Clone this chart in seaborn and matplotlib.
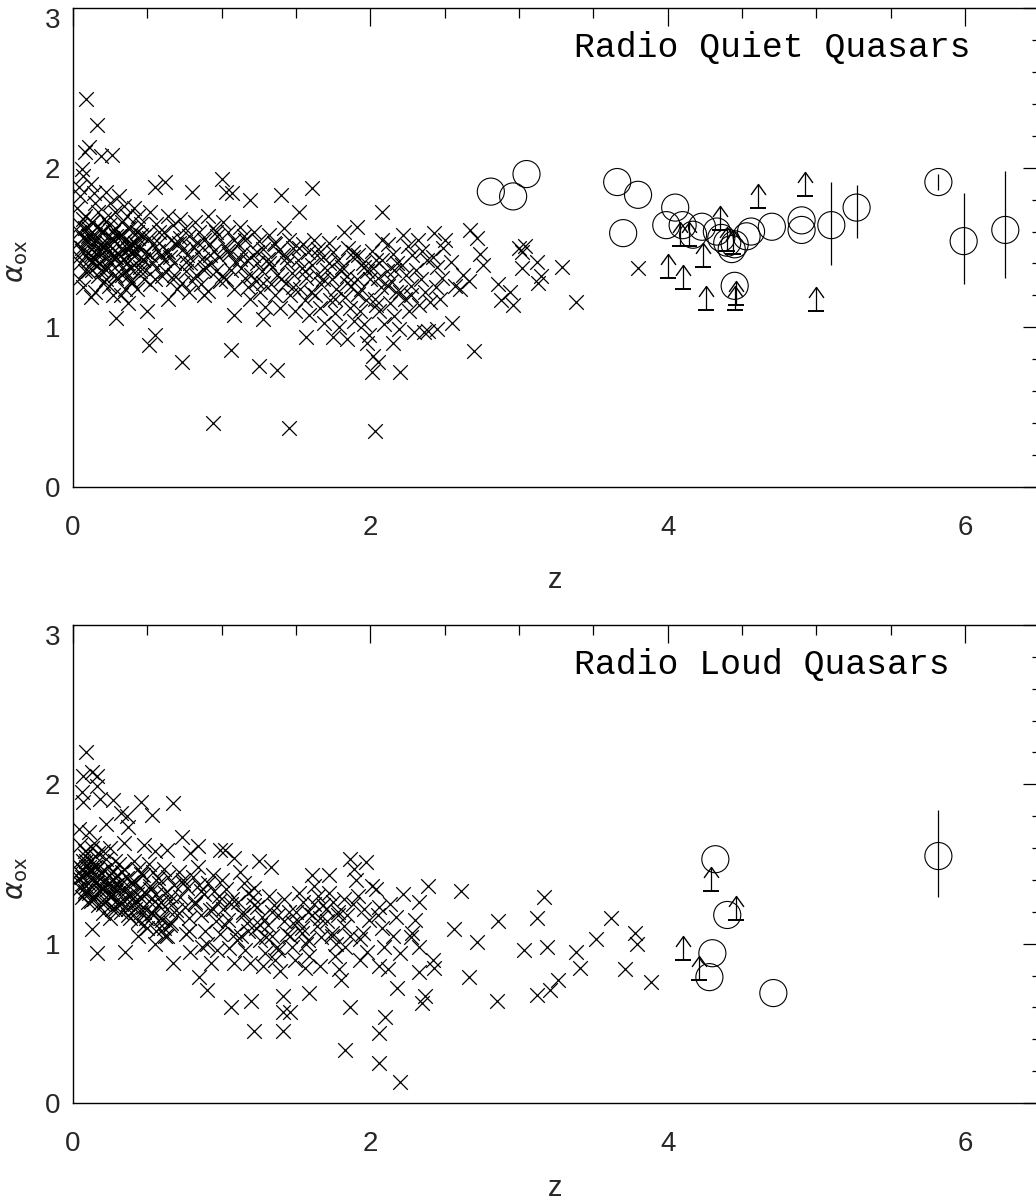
import numpy as np
import pandas as pd
import matplotlib
matplotlib.use("Agg")
import matplotlib.pyplot as plt
from matplotlib.path import Path
from matplotlib.ticker import MultipleLocator
import seaborn as sns

# ---------------------------------------------------------------------------
# Data: redshift z and alpha_ox
# ---------------------------------------------------------------------------
# Radio quiet, low-z sample (crosses)
rqq_cross_z = [
    0.07, 0.06, 0.08, 0.09, 0.04, 0.05, 0.03, 0.08, 0.05, 0.04, 0.07, 0.03, 0.06, 0.09, 0.05, 0.08, 0.04, 0.07, 0.10, 0.10,
    0.11, 0.16, 0.19, 0.12, 0.14, 0.15, 0.17, 0.13, 0.18, 0.11, 0.15, 0.19, 0.12, 0.16, 0.14, 0.18, 0.13, 0.17, 0.20, 0.15, 0.12, 0.19,
    0.26, 0.22, 0.25, 0.28, 0.21, 0.24, 0.27, 0.29, 0.23, 0.26, 0.21, 0.28, 0.25, 0.22, 0.29, 0.24, 0.27, 0.29,
    0.31, 0.34, 0.36, 0.33, 0.38, 0.32, 0.35, 0.39, 0.37, 0.31, 0.34, 0.36, 0.38, 0.33, 0.39, 0.35, 0.32, 0.37,
    0.41, 0.44, 0.46, 0.43, 0.48, 0.42, 0.45, 0.49, 0.47, 0.41, 0.45, 0.48, 0.43, 0.50,
    0.55, 0.62, 0.52, 0.56, 0.58, 0.51, 0.54, 0.57, 0.59, 0.53, 0.56, 0.60, 0.52, 0.51, 0.55,
    0.64, 0.67, 0.61, 0.66, 0.69, 0.63, 0.65, 0.68, 0.62, 0.67, 0.70, 0.64,
    0.80, 0.73, 0.72, 0.75, 0.78, 0.71, 0.74, 0.77, 0.79, 0.76, 0.73, 0.78,
    0.82, 0.85, 0.88, 0.81, 0.84, 0.87, 0.89, 0.83, 0.86, 0.88,
    0.91, 0.94, 0.97, 0.92, 0.95, 0.98, 0.93, 0.96, 0.99, 0.94, 0.91,
    1.00, 1.03, 1.07, 1.01, 1.04, 1.08, 1.02, 1.05, 1.09, 1.06, 1.03, 1.06, 1.08,
    1.12, 1.15, 1.19, 1.11, 1.14, 1.17, 1.13, 1.16, 1.18, 1.19,
    1.22, 1.25, 1.28, 1.21, 1.24, 1.27, 1.23, 1.26, 1.29, 1.25, 1.28,
    1.32, 1.35, 1.38, 1.31, 1.34, 1.37, 1.33, 1.36, 1.39, 1.37, 1.40,
    1.42, 1.45, 1.48, 1.41, 1.44, 1.47, 1.43, 1.46, 1.49, 1.45,
    1.52, 1.55, 1.58, 1.51, 1.54, 1.57, 1.53, 1.56, 1.59, 1.57, 1.61,
    1.62, 1.65, 1.68, 1.61, 1.64, 1.67, 1.63, 1.66, 1.69,
    1.72, 1.75, 1.78, 1.71, 1.74, 1.77, 1.73, 1.76, 1.79, 1.75,
    1.82, 1.85, 1.88, 1.81, 1.84, 1.87, 1.83, 1.86, 1.89, 1.84, 1.91,
    1.92, 1.95, 1.98, 1.91, 1.94, 1.97, 1.93, 1.96, 1.99, 1.98,
    2.01, 2.04, 2.08, 2.02, 2.05, 2.07, 2.03, 2.06, 2.09, 2.02, 2.05, 2.03, 2.01, 2.08,
    2.12, 2.15, 2.18, 2.11, 2.14, 2.17, 2.13, 2.16, 2.19, 2.15, 2.20,
    2.22, 2.25, 2.28, 2.21, 2.24, 2.27, 2.23, 2.26, 2.29, 2.27,
    2.32, 2.35, 2.38, 2.31, 2.34, 2.37, 2.33, 2.36, 2.39, 2.40,
    2.43, 2.49, 2.42, 2.45, 2.48, 2.44, 2.47, 2.45, 2.50,
    2.54, 2.55, 2.60, 2.66, 2.67, 2.72, 2.70, 2.74, 2.76, 2.86,
    2.88, 2.94, 2.96, 3.00, 3.02, 3.04, 3.02, 3.12, 3.13, 3.15,
    3.29, 3.38, 3.80, 2.62, 2.57,
    0.06, 0.09, 0.12, 0.15, 0.18, 0.21, 0.24, 0.27, 0.30, 0.33, 0.36, 0.39, 0.42, 0.45,
    0.08, 0.11, 0.14, 0.17, 0.20, 0.23, 0.26, 0.29, 0.32, 0.35, 0.38, 0.41, 0.44, 0.47,
    0.10, 0.13, 0.16, 0.19, 0.22, 0.25, 0.28, 0.31, 0.34, 0.37, 0.40, 0.43,
    0.04, 0.07, 0.10, 0.13, 0.16, 0.19, 0.22, 0.25, 0.28, 0.31, 0.34, 0.37, 0.40, 0.43, 0.46, 0.49, 0.52, 0.55, 0.58, 0.61,
    0.64, 0.68, 0.72, 0.76, 0.80, 0.84, 0.88, 0.92, 0.96, 1.00, 1.04, 1.08, 1.12, 1.16, 1.20, 1.24, 1.28, 1.32, 1.36, 1.40,
    1.44, 1.48, 1.52, 1.56, 1.60, 1.64, 1.68, 1.72, 1.76, 1.80, 1.84, 1.88, 1.92, 1.96, 2.00, 2.04, 2.08, 2.12, 2.16, 2.20,
]
rqq_cross_a = [
    1.95, 1.99, 2.10, 2.43, 1.88, 1.82, 1.75, 1.70, 1.64, 1.60, 1.56, 1.52, 1.48, 1.45, 1.40, 1.35, 1.30, 1.25, 1.55, 1.62,
    2.13, 2.27, 2.07, 1.90, 1.84, 1.78, 1.72, 1.66, 1.62, 1.58, 1.55, 1.52, 1.49, 1.46, 1.43, 1.40, 1.36, 1.32, 1.28, 1.22, 1.19, 1.60,
    2.08, 1.85, 1.78, 1.72, 1.68, 1.64, 1.60, 1.57, 1.53, 1.50, 1.47, 1.44, 1.40, 1.36, 1.31, 1.26, 1.20, 1.06,
    1.82, 1.76, 1.70, 1.66, 1.62, 1.58, 1.55, 1.52, 1.49, 1.46, 1.43, 1.40, 1.37, 1.33, 1.29, 1.24, 1.20, 1.15,
    1.75, 1.70, 1.65, 1.60, 1.57, 1.53, 1.50, 1.47, 1.43, 1.39, 1.35, 1.30, 1.24, 1.10,
    1.88, 1.91, 1.72, 1.65, 1.60, 1.56, 1.52, 1.48, 1.45, 1.41, 1.37, 1.32, 1.27, 0.89, 0.95,
    1.70, 1.64, 1.60, 1.55, 1.52, 1.48, 1.44, 1.40, 1.35, 1.30, 1.24, 1.18,
    1.85, 0.78, 1.68, 1.62, 1.57, 1.53, 1.49, 1.45, 1.40, 1.35, 1.28, 1.22,
    1.66, 1.60, 1.55, 1.51, 1.47, 1.43, 1.38, 1.33, 1.27, 1.20,
    1.70, 1.62, 1.57, 1.52, 1.48, 1.44, 1.40, 1.35, 1.29, 0.40, 1.23,
    1.93, 1.85, 1.84, 1.66, 1.60, 1.55, 1.51, 1.46, 1.41, 1.36, 1.30, 0.86, 1.08,
    1.63, 1.57, 1.80, 1.52, 1.47, 1.42, 1.37, 1.31, 1.25, 1.18,
    1.60, 1.54, 1.49, 1.45, 1.40, 1.35, 1.29, 1.22, 1.13, 0.76, 1.05,
    1.58, 1.53, 1.48, 1.43, 1.38, 1.33, 1.27, 1.20, 1.12, 0.73, 1.83,
    1.62, 1.55, 1.50, 1.45, 1.40, 1.34, 1.28, 1.20, 1.10, 0.37,
    1.72, 1.52, 1.47, 1.42, 1.37, 1.31, 1.24, 1.17, 1.08, 0.94, 1.87,
    1.55, 1.49, 1.44, 1.39, 1.33, 1.27, 1.20, 1.12, 1.03,
    1.53, 1.47, 1.42, 1.36, 1.30, 1.24, 1.17, 1.09, 1.00, 0.94,
    1.60, 1.50, 1.44, 1.38, 1.32, 1.26, 1.19, 1.12, 1.04, 0.93, 1.63,
    1.45, 1.40, 1.35, 1.30, 1.24, 1.17, 1.10, 1.02, 0.95, 0.90,
    1.48, 1.42, 1.72, 1.37, 1.31, 1.25, 1.18, 1.10, 1.02, 0.82, 0.78, 0.35, 0.72, 1.55,
    1.52, 1.46, 1.40, 1.35, 1.29, 1.22, 1.15, 1.07, 0.99, 0.90, 0.72,
    1.58, 1.51, 1.45, 1.39, 1.33, 1.26, 1.18, 1.10, 0.97, 1.20,
    1.55, 1.48, 1.42, 1.36, 1.30, 1.22, 1.14, 0.97, 0.98, 1.16,
    1.59, 1.50, 1.44, 1.38, 1.31, 1.25, 1.18, 0.99, 1.55,
    1.41, 1.03, 1.24, 1.29, 1.61, 1.56, 0.85, 1.46, 1.39, 1.27,
    1.17, 1.22, 1.14, 1.50, 1.47, 1.51, 1.37, 1.41, 1.28, 1.32,
    1.38, 1.16, 1.37, 1.33, 1.26,
    1.50, 1.55, 1.45, 1.58, 1.48, 1.52, 1.42, 1.55, 1.46, 1.50, 1.40, 1.53, 1.45, 1.38,
    1.62, 1.42, 1.53, 1.47, 1.60, 1.38, 1.56, 1.44, 1.58, 1.35, 1.50, 1.48, 1.56, 1.42,
    1.35, 1.66, 1.39, 1.52, 1.30, 1.45, 1.62, 1.40, 1.54, 1.32, 1.46, 1.60,
    1.44, 1.68, 1.57, 1.41, 1.63, 1.36, 1.49, 1.69, 1.33, 1.57, 1.47, 1.62, 1.28, 1.51, 1.58, 1.36, 1.45, 1.30, 1.53, 1.42,
    1.47, 1.33, 1.56, 1.41, 1.29, 1.53, 1.36, 1.45, 1.60, 1.32, 1.48, 1.24, 1.43, 1.55, 1.33, 1.47, 1.28, 1.40, 1.52, 1.30,
    1.44, 1.25, 1.50, 1.35, 1.22, 1.45, 1.30, 1.40, 1.18, 1.35, 1.28, 1.47, 1.21, 1.38, 1.30, 1.14, 1.42, 1.26, 1.36, 1.22,
]

# Radio quiet, high-z detections (circles)
rqq_circ_z = [2.81, 2.96, 3.05, 3.66, 3.80, 3.70, 4.05, 3.99, 4.10, 4.17, 4.23,
              4.33, 4.36, 4.40, 4.43, 4.45, 4.53, 4.56, 4.70, 4.90, 4.90, 4.45]
rqq_circ_a = [1.85, 1.82, 1.96, 1.91, 1.83, 1.59, 1.75, 1.64, 1.64, 1.58, 1.63,
              1.60, 1.56, 1.53, 1.49, 1.52, 1.57, 1.60, 1.63, 1.67, 1.61, 1.26]
# Radio quiet, circles with error bars
rqq_err_z = [5.10, 5.27, 5.82, 5.99, 6.27]
rqq_err_a = [1.64, 1.75, 1.91, 1.54, 1.61]
rqq_err_lo = [1.39, 1.56, 1.86, 1.27, 1.31]
rqq_err_hi = [1.91, 1.89, 1.96, 1.84, 1.98]
# Radio quiet, lower limits (arrows)
rqq_lim_z = [4.00, 4.10, 4.08, 4.14, 4.24, 4.26, 4.35, 4.40, 4.44, 4.45, 4.46, 4.61, 4.92, 5.00]
rqq_lim_a = [1.31, 1.24, 1.51, 1.51, 1.38, 1.11, 1.61, 1.48, 1.46, 1.11, 1.14, 1.745, 1.82, 1.10]

# Radio loud, low-z sample (crosses)
rlq_cross_z = [
    0.09, 0.07, 0.04, 0.07, 0.05, 0.08, 0.03, 0.06, 0.09, 0.04, 0.07, 0.05, 0.08, 0.06, 0.10, 0.03, 0.08, 0.06, 0.09,
    0.13, 0.16, 0.16, 0.18, 0.11, 0.14, 0.17, 0.12, 0.15, 0.19, 0.13, 0.16, 0.18, 0.11, 0.14, 0.17, 0.20, 0.13, 0.16, 0.15, 0.12,
    0.27, 0.22, 0.25, 0.28, 0.21, 0.24, 0.27, 0.29, 0.23, 0.26, 0.22, 0.28, 0.25, 0.24,
    0.36, 0.32, 0.37, 0.34, 0.31, 0.33, 0.36, 0.39, 0.35, 0.38, 0.32, 0.37, 0.35,
    0.46, 0.48, 0.41, 0.44, 0.47, 0.42, 0.45, 0.49, 0.43, 0.46, 0.48, 0.44,
    0.53, 0.55, 0.51, 0.54, 0.57, 0.52, 0.56, 0.59, 0.53, 0.58, 0.55,
    0.63, 0.67, 0.61, 0.64, 0.68, 0.62, 0.65, 0.69, 0.66, 0.67, 0.63,
    0.73, 0.79, 0.71, 0.74, 0.77, 0.72, 0.75, 0.78, 0.76, 0.79,
    0.84, 0.84, 0.81, 0.85, 0.88, 0.82, 0.86, 0.89, 0.85, 0.90, 0.87,
    0.94, 0.99, 0.91, 0.95, 0.98, 0.92, 0.96, 0.99, 0.97, 0.93,
    1.02, 1.08, 1.06, 1.00, 1.03, 1.07, 1.01, 1.04, 1.09, 1.05, 1.08,
    1.12, 1.15, 1.18, 1.11, 1.14, 1.17, 1.13, 1.16, 1.19, 1.20,
    1.25, 1.22, 1.21, 1.24, 1.27, 1.23, 1.26, 1.29, 1.28, 1.22,
    1.33, 1.32, 1.35, 1.38, 1.31, 1.34, 1.37, 1.36, 1.39,
    1.41, 1.41, 1.46, 1.41, 1.42, 1.45, 1.48, 1.44, 1.47, 1.49,
    1.52, 1.55, 1.58, 1.51, 1.54, 1.57, 1.59, 1.56, 1.61,
    1.62, 1.65, 1.68, 1.61, 1.64, 1.67, 1.59, 1.66, 1.72,
    1.72, 1.75, 1.78, 1.71, 1.74, 1.77, 1.76, 1.79,
    1.86, 1.89, 1.97, 1.82, 1.90, 1.83, 1.86, 1.88, 1.84, 1.86, 1.83, 1.80,
    1.93, 1.95, 2.01, 1.93, 1.96, 1.99, 1.92, 1.98,
    2.04, 2.06, 2.09, 2.06, 2.06, 2.06, 2.08, 2.05, 2.10,
    2.12, 2.17, 2.18, 2.20, 2.22, 2.15, 2.20, 2.13,
    2.27, 2.28, 2.33, 2.33, 2.33, 2.35, 2.37, 2.39, 2.42, 2.43, 2.30,
    2.56, 2.61, 2.66, 2.72, 2.85, 2.86, 3.03, 3.12, 3.12, 3.17, 3.19,
    3.21, 3.26, 3.38, 3.41, 3.52, 3.62, 3.71, 3.78, 3.79, 3.89,
    0.06, 0.09, 0.12, 0.15, 0.18, 0.21, 0.24, 0.27, 0.30, 0.33, 0.36, 0.39, 0.42, 0.45, 0.48, 0.51, 0.54, 0.57, 0.60, 0.63,
    0.08, 0.11, 0.14, 0.17, 0.20, 0.23, 0.26, 0.29, 0.32, 0.35, 0.38, 0.41, 0.44, 0.47, 0.50, 0.53, 0.56, 0.59, 0.62, 0.65,
    0.04, 0.07, 0.10, 0.13, 0.16, 0.19, 0.22, 0.25, 0.28, 0.31, 0.34, 0.37, 0.40, 0.43, 0.46, 0.49, 0.52, 0.55, 0.58, 0.61,
    0.66, 0.70, 0.74, 0.78, 0.82, 0.86, 0.90, 0.94, 0.98, 1.02, 1.06, 1.10, 1.14, 1.18, 1.22, 1.26, 1.30, 1.34, 1.38, 1.42,
    1.46, 1.50, 1.54, 1.58, 1.62, 1.66, 1.70, 1.74, 1.78, 1.82, 0.15, 0.18, 0.21, 0.24, 0.12, 0.09, 0.27, 0.30, 0.33, 0.20,
]
rlq_cross_a = [
    2.20, 2.05, 1.72, 1.89, 1.62, 1.55, 1.50, 1.47, 1.44, 1.41, 1.38, 1.35, 1.32, 1.29, 1.26, 1.40, 1.58, 1.95, 1.48,
    2.08, 2.05, 1.99, 1.91, 1.70, 1.63, 1.57, 1.52, 1.48, 1.45, 1.42, 1.39, 1.36, 1.32, 1.28, 1.24, 1.19, 1.09, 0.94, 1.55, 1.46,
    1.90, 1.75, 1.60, 1.52, 1.46, 1.43, 1.40, 1.37, 1.34, 1.30, 1.27, 1.22, 1.16, 1.48,
    1.80, 1.82, 1.73, 1.63, 1.50, 1.45, 1.41, 1.38, 1.34, 1.30, 1.25, 1.18, 0.95,
    1.89, 1.62, 1.52, 1.47, 1.43, 1.39, 1.35, 1.31, 1.26, 1.20, 1.12, 1.05,
    1.81, 1.58, 1.50, 1.45, 1.41, 1.36, 1.31, 1.26, 1.19, 1.10, 1.00,
    1.59, 1.88, 1.47, 1.42, 1.37, 1.32, 1.27, 1.21, 1.13, 0.88, 1.05,
    1.67, 1.57, 1.45, 1.40, 1.35, 1.29, 1.23, 1.16, 1.06, 0.95,
    1.61, 1.48, 1.42, 1.37, 1.31, 1.25, 1.18, 1.08, 0.79, 0.71, 0.98,
    1.43, 1.59, 1.38, 1.33, 1.27, 1.21, 1.14, 1.06, 0.96, 0.88,
    1.59, 1.54, 0.60, 1.40, 1.34, 1.28, 1.22, 1.15, 1.06, 0.97, 0.88,
    1.45, 1.38, 1.32, 1.26, 1.20, 1.13, 1.05, 0.96, 0.88, 0.64,
    1.52, 1.35, 1.29, 1.23, 1.17, 1.10, 1.02, 0.94, 0.86, 0.45,
    1.48, 1.30, 1.24, 1.18, 1.12, 1.05, 0.98, 0.90, 0.83,
    0.45, 0.57, 0.57, 0.67, 1.28, 1.20, 1.13, 1.06, 0.98, 0.90,
    1.32, 1.26, 1.20, 1.14, 1.07, 1.00, 0.92, 0.85, 1.43,
    1.36, 1.30, 1.24, 1.18, 1.11, 1.04, 0.69, 0.86, 1.43,
    1.32, 1.26, 1.20, 1.14, 1.07, 1.00, 0.92, 0.84,
    1.53, 1.47, 1.51, 1.11, 1.40, 0.98, 0.60, 1.25, 1.18, 1.05, 0.33, 0.77,
    0.90, 1.07, 1.36, 1.03, 1.22, 1.15, 1.30, 0.95,
    1.34, 1.23, 0.98, 0.86, 0.44, 0.25, 1.10, 1.18, 0.54,
    0.84, 1.17, 0.72, 0.94, 1.31, 1.05, 0.13, 1.25,
    1.04, 1.07, 1.26, 0.98, 0.82, 0.63, 0.67, 1.36, 0.90, 0.85, 1.15,
    1.09, 1.33, 0.79, 1.01, 0.64, 1.14, 0.96, 1.16, 0.68, 1.29, 0.98,
    0.71, 0.77, 0.95, 0.85, 1.03, 1.16, 0.84, 1.07, 1.00, 0.76,
    1.42, 1.36, 1.45, 1.38, 1.33, 1.40, 1.31, 1.36, 1.28, 1.34, 1.25, 1.32, 1.22, 1.29, 1.20, 1.27, 1.18, 1.24, 1.15, 1.22,
    1.33, 1.48, 1.30, 1.42, 1.25, 1.37, 1.22, 1.33, 1.20, 1.29, 1.16, 1.26, 1.14, 1.23, 1.10, 1.19, 1.08, 1.16, 1.05, 1.12,
    1.45, 1.52, 1.38, 1.60, 1.47, 1.35, 1.53, 1.29, 1.42, 1.36, 1.47, 1.22, 1.39, 1.31, 1.44, 1.16, 1.34, 1.27, 1.38, 1.10,
    1.30, 1.18, 1.38, 1.08, 1.26, 1.33, 1.00, 1.22, 1.30, 1.12, 1.25, 1.02, 1.18, 1.08, 1.24, 1.12, 1.04, 1.20, 0.96, 1.14,
    1.05, 1.20, 1.10, 1.02, 1.25, 1.16, 1.22, 1.05, 1.18, 1.28, 1.50, 1.33, 1.26, 1.38, 1.27, 1.52, 1.45, 1.25, 1.40, 1.58,
]

# Radio loud, high-z
rlq_circ_z = [4.32, 4.40, 4.30, 4.28, 4.71]
rlq_circ_a = [1.53, 1.18, 0.94, 0.79, 0.69]
rlq_err_z = [5.82]
rlq_err_a = [1.55]
rlq_err_lo = [1.29]
rlq_err_hi = [1.84]
rlq_lim_z = [4.29, 4.46, 4.10, 4.21]
rlq_lim_a = [1.33, 1.15, 0.90, 0.77]

ARROW_LEN = 0.15

# ---------------------------------------------------------------------------
# Style
# ---------------------------------------------------------------------------
sns.set_theme(style="white")
plt.rcParams['font.family'] = ['Liberation Sans Narrow', 'Liberation Sans', 'DejaVu Sans']
plt.rcParams['axes.linewidth'] = 1.0
plt.rcParams['axes.edgecolor'] = 'black'

# open chevron used as the arrow head of lower limits
head_marker = Path([(-0.5, -0.7), (0.0, 0.0), (0.5, -0.7)],
                   [Path.MOVETO, Path.LINETO, Path.LINETO])

W, H = 1036, 1202
fig = plt.figure(figsize=(W / 100, H / 100), dpi=100)
ax_w = 966.5 / W
ax_top = fig.add_axes([73 / W, 1 - 487 / H, ax_w, 479 / H])
ax_bot = fig.add_axes([73 / W, 1 - 1103 / H, ax_w, 478 / H])


def draw_panel(ax, cz, ca, oz, oa, ez, ea, elo, ehi, lz, la, title, zlab_y):
    crosses = pd.DataFrame({'z': cz, 'aox': ca})
    sns.scatterplot(data=crosses, x='z', y='aox', ax=ax, marker='x', s=110,
                    color='black', linewidth=0.9, zorder=3)
    circles = pd.DataFrame({'z': oz + ez, 'aox': oa + ea})
    sns.scatterplot(data=circles, x='z', y='aox', ax=ax, marker='o', s=380,
                    facecolor='none', edgecolor='black', linewidth=0.8, zorder=4)
    # error bars on the highest-z objects
    ax.vlines(ez, elo, ehi, color='black', linewidth=0.9, zorder=4)
    # lower limits: bar + stem + open head
    lz = np.asarray(lz)
    la = np.asarray(la)
    ax.vlines(lz, la, la + ARROW_LEN, color='black', linewidth=0.9, zorder=5)
    ax.plot(lz, la, linestyle='none', marker='_', markersize=11,
            markeredgewidth=1.4, color='black', zorder=5)
    ax.plot(lz, la + ARROW_LEN, linestyle='none', marker=head_marker,
            markersize=15, markerfacecolor='none', markeredgecolor='black',
            markeredgewidth=1.0, zorder=5)

    ax.set_xlim(0, 6.5)
    ax.set_ylim(0, 3)
    ax.xaxis.set_major_locator(MultipleLocator(2))
    ax.xaxis.set_minor_locator(MultipleLocator(0.5))
    ax.yaxis.set_major_locator(MultipleLocator(1))
    ax.yaxis.set_minor_locator(MultipleLocator(0.2))
    ax.tick_params(which='both', direction='in', top=True, right=True,
                   color='black', width=0.9)
    ax.tick_params(axis='x', which='major', length=13, pad=20, labelsize=20)
    ax.tick_params(axis='x', which='minor', length=7)
    ax.tick_params(axis='y', which='major', length=12, pad=9, labelsize=20)
    ax.tick_params(axis='y', which='minor', length=6)
    for sp in ax.spines.values():
        sp.set_visible(True)
        sp.set_color('black')

    # the top "3" sits just below its tick, as in the original
    fig.canvas.draw()
    for lab in ax.get_yticklabels():
        if lab.get_text() == '3':
            lab.set_verticalalignment('top')

    ax.set_xlabel('z', fontsize=21)
    ax.xaxis.set_label_coords(0.499, zlab_y)
    ax.set_ylabel(r'$\alpha_{\rm ox}$', fontsize=20)
    ax.yaxis.set_label_coords(-0.044, 0.47)
    ax.text(0.518, 0.898, title, transform=ax.transAxes, fontsize=25,
            family=['Liberation Mono', 'DejaVu Sans Mono'], color='black',
            ha='left', va='baseline')


draw_panel(ax_top, rqq_cross_z, rqq_cross_a, rqq_circ_z, rqq_circ_a,
           rqq_err_z, rqq_err_a, rqq_err_lo, rqq_err_hi,
           rqq_lim_z, rqq_lim_a, 'Radio Quiet Quasars', -0.165)
draw_panel(ax_bot, rlq_cross_z, rlq_cross_a, rlq_circ_z, rlq_circ_a,
           rlq_err_z, rlq_err_a, rlq_err_lo, rlq_err_hi,
           rlq_lim_z, rlq_lim_a, 'Radio Loud Quasars', -0.148)

fig.savefig('out.png', dpi=100, facecolor='white')
